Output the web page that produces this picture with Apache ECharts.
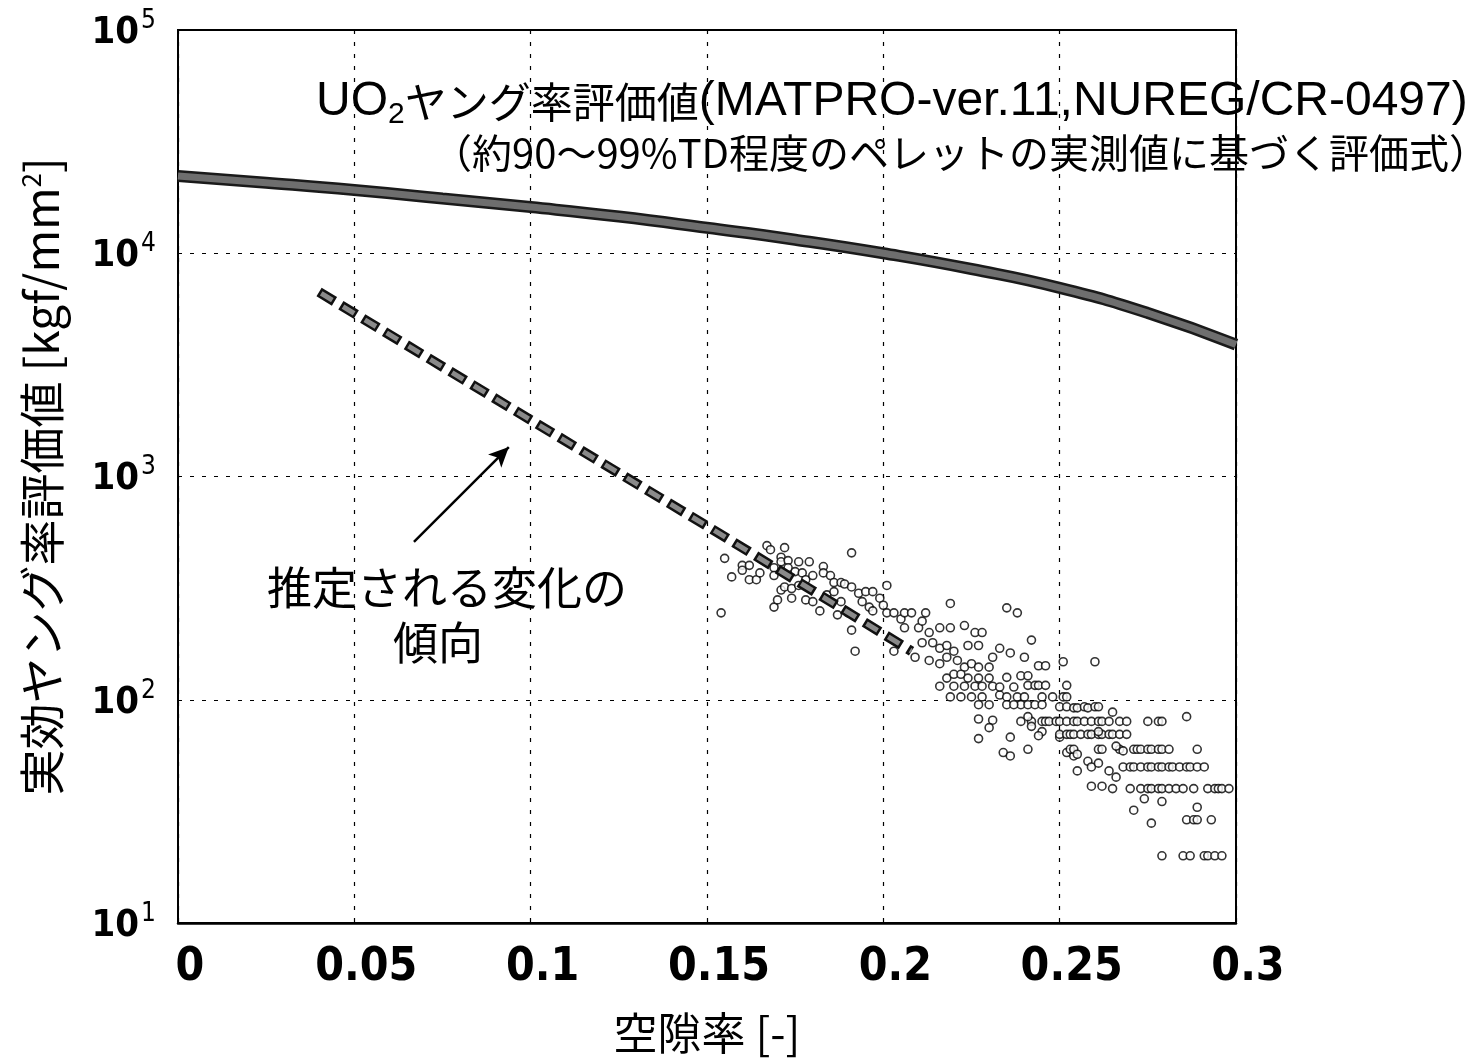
<!DOCTYPE html>
<html><head><meta charset="utf-8">
<script src="https://cdn.jsdelivr.net/npm/echarts@6/dist/echarts.min.js"></script>
<style>html,body{margin:0;padding:0;background:#fff}#c{width:1480px;height:1063px}</style>
</head><body><div id="c"></div><script>
// ---- data (porosity [-], effective Young's modulus [kgf/mm2]) ----
const xTickLabels = ['0', '0.05', '0.1', '0.15', '0.2', '0.25', '0.3'];
const matproPorosity = [0, 0.025, 0.05, 0.075, 0.1, 0.125, 0.15, 0.175, 0.2, 0.225, 0.25, 0.275, 0.3];
const matproE = [22200, 20700, 19200, 17600, 16100, 14600, 13000, 11500, 10000, 8500, 7000, 5400, 3900];
const trendPorosity = [0.04, 0.1, 0.15, 0.208];
const trendE = [6700, 1790, 600, 165];
const arrowFrom = [0.0669, 509];
const arrowTo = [0.0938, 1355];
const measuredUpper = [
 [0.155,430],[0.157,355],[0.154,245],[0.160,400],[0.160,380],[0.162,400],[0.162,345],[0.164,345],[0.165,370],[0.167,490],
 [0.168,470],[0.172,480],[0.171,435],[0.171,415],[0.173,420],[0.176,415],[0.179,415],[0.169,390],[0.169,360],[0.173,390],
 [0.175,375],[0.177,370],[0.171,310],[0.172,320],[0.174,315],[0.176,325],[0.178,345],[0.180,360],[0.183,395],[0.183,370],
 [0.185,360],[0.186,335],[0.188,335],[0.189,330],[0.191,455],[0.191,320],[0.169,260],[0.170,280],[0.174,285],[0.178,280],
 [0.180,275],[0.182,250],[0.184,295],[0.186,305],[0.188,275],[0.190,245],[0.191,205],[0.192,165],[0.187,240],[0.193,300],
 [0.195,305],[0.197,305],[0.194,275],[0.196,260],[0.197,250],[0.199,285],[0.201,325],[0.200,265],[0.201,245],[0.203,245],
 [0.205,230],[0.206,245],[0.208,245],[0.212,245],[0.206,210],[0.210,210],[0.211,225],[0.213,200],[0.216,210],[0.219,210],
 [0.223,215],[0.219,270],[0.226,200],[0.228,200]
];
const measuredMiddle = [
 [0.203,165],[0.209,155],[0.211,180],[0.213,150],[0.214,180],[0.216,170],[0.218,175],[0.220,165],[0.224,175],[0.227,175],
 [0.216,145],[0.218,155],[0.221,150],[0.223,140],[0.225,145],[0.227,140],[0.230,140],[0.231,155],[0.218,125],[0.220,130],
 [0.222,130],[0.224,125],[0.227,125],[0.230,125],[0.216,115],[0.220,115],[0.223,115],[0.226,115],[0.228,115],[0.231,115],
 [0.219,103],[0.222,103],[0.225,103],[0.228,103],[0.233,105],[0.227,95],[0.230,95],
 [0.235,258],[0.238,245],[0.242,185],[0.240,155],[0.244,142],[0.246,142],[0.251,148],[0.260,148],[0.236,162],[0.233,170],
 [0.239,128],[0.241,128],[0.235,126],[0.252,116],[0.241,116],[0.243,116],[0.244,116],[0.246,116],[0.237,114],[0.233,114],
 [0.248,103],[0.251,103],[0.252,103],[0.238,103],[0.240,103],[0.245,103],[0.235,103],
 [0.239,95],[0.241,95],[0.243,95],[0.245,95],[0.235,95],[0.237,95]
];
const measuredLower = [
 [0.250,93],[0.252,93],[0.254,92],[0.255,92],[0.257,93],[0.258,92],[0.260,93],[0.261,93],[0.265,88],
 [0.239,80],[0.242,80],[0.245,80],[0.246,80],[0.247,80],[0.249,80],[0.250,80],[0.252,80],[0.254,80],[0.255,80],
 [0.257,80],[0.259,80],[0.261,80],[0.262,80],[0.264,80],[0.267,80],[0.269,80],[0.275,80],[0.278,80],[0.279,80],[0.286,84],
 [0.227,67],[0.234,58],[0.236,56],[0.241,60],[0.241,84],[0.242,76],[0.245,72],[0.231,81],[0.227,82],[0.230,75],
 [0.236,68],[0.244,69],[0.250,68],[0.252,58],[0.254,56],[0.258,53],[0.259,50],[0.255,48],[0.261,52],[0.264,48],
 [0.266,45],[0.259,41],[0.262,41],
 [0.250,70],[0.252,70],[0.253,70],[0.254,70],[0.256,70],[0.258,70],[0.259,70],[0.261,70],[0.262,70],[0.264,70],
 [0.265,70],[0.267,70],[0.269,70],[0.261,72],
 [0.253,60],[0.254,60],[0.255,57],[0.261,60],[0.262,60],[0.267,60],[0.268,59],[0.271,60],[0.272,60],[0.273,60],
 [0.275,60],[0.276,60],[0.278,60],[0.279,60],[0.281,60],[0.266,62],[0.289,60],
 [0.268,50],[0.270,50],[0.271,50],[0.273,50],[0.275,50],[0.276,50],[0.278,50],[0.279,50],[0.281,50],[0.282,50],
 [0.284,50],[0.286,50],[0.287,50],[0.289,50],[0.291,50],
 [0.265,40],[0.270,40],[0.273,40],[0.275,40],[0.276,40],[0.278,40],[0.279,40],[0.281,40],[0.283,40],[0.285,40],
 [0.288,40],[0.292,40],[0.294,40],[0.295,40],[0.296,40],[0.298,40],
 [0.274,36],[0.279,35],[0.271,32],
 [0.286,29],[0.288,29],[0.289,29],[0.293,29],[0.289,33],[0.276,28],
 [0.279,20],[0.285,20],[0.287,20],[0.291,20],[0.292,20],[0.294,20],[0.296,20]
];

const zip = (xs, ys) => xs.map((x, i) => [x, ys[i]]);
const numFont = "'DejaVu Sans Condensed', 'Liberation Sans', sans-serif";
const circleStyle = { color: '#fff', borderColor: '#000', borderWidth: 1.6 };
const scatterSeries = (data) => ({
  type: 'scatter', data, symbol: 'circle', symbolSize: 8, itemStyle: circleStyle, z: 3, silent: true
});

const chart = echarts.init(document.getElementById('c'), null, { renderer: 'canvas' });
chart.setOption({
  animation: false,
  backgroundColor: '#fff',
  grid: { left: 178, top: 30, right: 244, bottom: 140, show: true, borderColor: '#000', borderWidth: 2, backgroundColor: 'transparent' },
  xAxis: {
    type: 'value', min: 0, max: 0.3, interval: 0.05,
    axisLine: { show: true, lineStyle: { color: '#000', width: 2.5 } },
    axisTick: { show: false },
    splitLine: { show: true, lineStyle: { color: '#000', width: 1.2, type: [4, 8] } },
    axisLabel: {
      color: '#000', fontFamily: numFont, fontWeight: 'bold', fontSize: 46, margin: 22,
      padding: [0, 0, 0, 24],
      formatter: (v) => xTickLabels[Math.round(v / 0.05)]
    },
    name: '空隙率 [-]', nameLocation: 'middle', nameGap: 88,
    nameTextStyle: { color: '#000', fontFamily: 'Noto Sans CJK JP', fontSize: 44 }
  },
  yAxis: {
    type: 'log', logBase: 10, min: 10, max: 100000,
    axisLine: { show: true, lineStyle: { color: '#000', width: 2 } },
    axisTick: { show: false },
    minorTick: { show: false },
    splitLine: { show: true, lineStyle: { color: '#000', width: 1.2, type: [4, 8] } },
    axisLabel: {
      margin: 22,
      formatter: (v) => '{b|10}{s|' + Math.round(Math.log(v) / Math.LN10) + '}',
      rich: {
        b: { fontFamily: numFont, fontWeight: 'bold', fontSize: 38, color: '#000', verticalAlign: 'bottom', lineHeight: 44 },
        s: { fontFamily: numFont, fontSize: 26, color: '#000', verticalAlign: 'bottom', lineHeight: 44, padding: [0, 0, 18, 2] }
      }
    },
    name: '実効ヤング率評価値 [kgf/mm{s|2}]', nameLocation: 'middle', nameGap: 112, nameRotate: 90,
    nameTextStyle: {
      color: '#000', fontFamily: 'Noto Sans CJK JP', fontSize: 46,
      rich: { s: { fontFamily: 'Noto Sans CJK JP', fontSize: 26, color: '#000', padding: [0, 0, 22, 0] } }
    }
  },
  series: [
    scatterSeries(measuredUpper),
    scatterSeries(measuredMiddle),
    Object.assign(scatterSeries(measuredLower), {
      markLine: {
        silent: true, symbol: ['none', 'arrow'], symbolSize: [14, 20],
        lineStyle: { color: '#000', width: 2.5, type: 'solid' }, label: { show: false },
        data: [[{ coord: arrowFrom }, { coord: arrowTo }]]
      }
    }),
    { type: 'line', data: zip(trendPorosity, trendE), showSymbol: false, symbol: 'none', z: 4, silent: true,
      lineStyle: { color: '#111', width: 10, type: [18, 7.5], cap: 'butt' } },
    { type: 'line', data: zip(trendPorosity, trendE), showSymbol: false, symbol: 'none', z: 5, silent: true,
      lineStyle: { color: '#8a8a8a', width: 5, type: [13, 12.5], dashOffset: -2.5, cap: 'butt' } },
    { type: 'line', data: zip(matproPorosity, matproE), smooth: true, showSymbol: false, symbol: 'none', z: 4, silent: true,
      lineStyle: { color: '#1a1a1a', width: 12 } },
    { type: 'line', data: zip(matproPorosity, matproE), smooth: true, showSymbol: false, symbol: 'none', z: 5, silent: true,
      lineStyle: { color: '#6e6e6e', width: 7 } }
  ],
  graphic: [
    { type: 'text', x: 316, y: 102, z: 10, style: {
        text: '{l|UO}{sub|2}{j|ヤング率評価値}{l|(MATPRO-ver.11,NUREG/CR-0497)}',
        verticalAlign: 'middle', align: 'left',
        rich: {
          l: { fontFamily: 'Liberation Sans', fontSize: 48, fill: '#000', verticalAlign: 'middle', lineHeight: 56 },
          sub: { fontFamily: 'Liberation Sans', fontSize: 30, fill: '#000', verticalAlign: 'middle', lineHeight: 30, padding: [26, 0, 0, 0] },
          j: { fontFamily: 'Noto Sans CJK JP', fontSize: 42, fill: '#000', verticalAlign: 'middle', lineHeight: 56 }
        } } },
    { type: 'text', x: 432, y: 153, z: 10, style: {
        text: '（約90～99%TD程度のペレットの実測値に基づく評価式）',
        verticalAlign: 'middle', align: 'left',
        fontFamily: 'Noto Sans CJK JP', fontSize: 40, fill: '#000' } },
    { type: 'text', x: 447, y: 588, z: 10, style: {
        text: '推定される変化の', verticalAlign: 'middle', align: 'center',
        fontFamily: 'Noto Sans CJK JP', fontSize: 45, fill: '#000' } },
    { type: 'text', x: 438, y: 643, z: 10, style: {
        text: '傾向', verticalAlign: 'middle', align: 'center',
        fontFamily: 'Noto Sans CJK JP', fontSize: 45, fill: '#000' } }
  ]
});
</script></body></html>
